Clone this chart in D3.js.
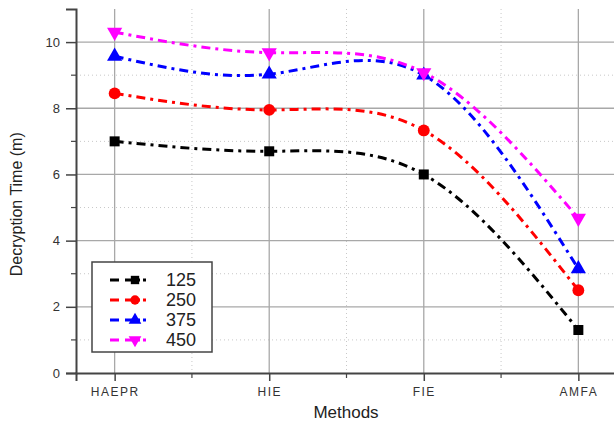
<!DOCTYPE html>
<html>
<head>
<meta charset="utf-8">
<script src="https://cdn.jsdelivr.net/npm/d3@7"></script>
<style>
  body { margin: 0; background: #fff; }
  svg text { font-family: "Liberation Sans", Arial, sans-serif; }
</style>
</head>
<body>
<svg id="chart" width="614" height="430"></svg>
<script>
// categories and series
const methods = ["HAEPR", "HIE", "FIE", "AMFA"];
const seriesNames = ["125", "250", "375", "450"];
const s125 = [7.0, 6.7, 6.0, 1.3];
const s250 = [8.45, 7.95, 7.33, 2.5];
const s375 = [9.57, 9.03, 9.0, 3.15];
const s450 = [10.3, 9.68, 9.08, 4.68];
const yTicks = [0, 2, 4, 6, 8, 10];

const colors = ["#000000", "#ff0000", "#0000ff", "#ff00ff"];
const symbols = [d3.symbolSquare, d3.symbolCircle, d3.symbolTriangle, d3.symbolTriangle];
const allSeries = [s125, s250, s375, s450];

const svg = d3.select("#chart");
const pLeft = 76, pBottom = 373, pTop = 9, pRight = 617;

const x = d3.scaleLinear().domain([-0.25, 3.25]).range([pLeft, pRight]);
const y = d3.scaleLinear().domain([0, 11]).range([pBottom, pTop]);

// grid
const grid = svg.append("g");
grid.selectAll(".hmin").data([1, 3, 5, 7, 9]).enter().append("line")
  .attr("x1", pLeft).attr("x2", 614)
  .attr("y1", d => y(d)).attr("y2", d => y(d))
  .attr("stroke", "#c8c8c8").attr("stroke-width", 1).attr("stroke-dasharray", "1,3");
grid.selectAll(".vmin").data([0.5, 1.5, 2.5]).enter().append("line")
  .attr("x1", d => x(d)).attr("x2", d => x(d))
  .attr("y1", pTop).attr("y2", pBottom)
  .attr("stroke", "#c8c8c8").attr("stroke-width", 1).attr("stroke-dasharray", "1,3");
grid.selectAll(".hmaj").data(yTicks.slice(1)).enter().append("line")
  .attr("x1", pLeft).attr("x2", 614)
  .attr("y1", d => y(d)).attr("y2", d => y(d))
  .attr("stroke", "#a8a8a8").attr("stroke-width", 1.3);
grid.selectAll(".vmaj").data(d3.range(methods.length)).enter().append("line")
  .attr("x1", d => x(d)).attr("x2", d => x(d))
  .attr("y1", pTop).attr("y2", pBottom)
  .attr("stroke", "#a8a8a8").attr("stroke-width", 1.3);

// axes
const yAxis = svg.append("g").attr("transform", `translate(${pLeft},0)`)
  .call(d3.axisLeft(y).tickValues(yTicks).tickSize(10).tickPadding(6));
yAxis.select(".domain").attr("stroke", "#444").attr("stroke-width", 2);
yAxis.selectAll(".tick line").attr("stroke", "#444").attr("stroke-width", 1.5);
yAxis.selectAll("text").style("font-size", "13px").attr("fill", "#333");
svg.append("g").selectAll("line").data([1, 3, 5, 7, 9]).enter().append("line")
  .attr("x1", pLeft - 5).attr("x2", pLeft)
  .attr("y1", d => y(d)).attr("y2", d => y(d))
  .attr("stroke", "#444").attr("stroke-width", 1.2);

const xAxis = svg.append("g").attr("transform", `translate(0,${pBottom})`)
  .call(d3.axisBottom(x).tickValues(d3.range(methods.length))
    .tickFormat(i => methods[i]).tickSize(8).tickPadding(6));
xAxis.select(".domain").attr("stroke", "#444").attr("stroke-width", 2);
xAxis.selectAll(".tick line").attr("stroke", "#444").attr("stroke-width", 1.5);
xAxis.selectAll("text").style("font-size", "12px").style("letter-spacing", "1.5px").attr("fill", "#333");
svg.append("g").selectAll("line").data([0.5, 1.5, 2.5]).enter().append("line")
  .attr("x1", d => x(d)).attr("x2", d => x(d))
  .attr("y1", pBottom).attr("y2", pBottom + 5)
  .attr("stroke", "#444").attr("stroke-width", 1.2);

// axis titles
svg.append("text")
  .attr("transform", `translate(22,${y(5.1)}) rotate(-90)`)
  .attr("text-anchor", "middle")
  .style("font-size", "16px").attr("fill", "#222")
  .text("Decryption Time (m)");
svg.append("text")
  .attr("x", 346).attr("y", 418)
  .attr("text-anchor", "middle")
  .style("font-size", "17px").attr("fill", "#222")
  .text("Methods");

// lines
const line = d3.line()
  .x((d, i) => x(i))
  .y(d => y(d))
  .curve(d3.curveNatural);

allSeries.forEach(function(s, k) {
  svg.append("path")
    .datum(s)
    .attr("d", line)
    .attr("fill", "none")
    .attr("stroke", colors[k])
    .attr("stroke-width", 3)
    .attr("stroke-dasharray", "9,5,3,5");
});

function marker(sel, k, size) {
  sel.attr("d", d3.symbol().type(symbols[k]).size(size))
    .attr("fill", colors[k]);
}

allSeries.forEach(function(s, k) {
  svg.append("g").selectAll("path")
    .data(s)
    .enter()
    .append("path")
      .attr("transform", (d, i) => `translate(${x(i)},${y(d)})` + (k === 3 ? " rotate(180)" : ""))
      .call(marker, k, k === 1 ? 110 : 100);
});

// legend
const legend = svg.append("g").attr("transform", "translate(92,262)");
legend.append("rect")
  .attr("width", 120).attr("height", 90)
  .attr("fill", "#fff").attr("stroke", "#444").attr("stroke-width", 1.5);
seriesNames.forEach(function(name, k) {
  const yy = 18 + k * 20;
  legend.append("line")
    .attr("x1", 18).attr("x2", 54).attr("y1", yy).attr("y2", yy)
    .attr("stroke", colors[k]).attr("stroke-width", 3)
    .attr("stroke-dasharray", "9,6,15,3,3");
  legend.append("path")
    .attr("transform", `translate(43,${yy})` + (k === 3 ? " rotate(180)" : ""))
    .call(marker, k, 70);
  legend.append("text")
    .attr("x", 74).attr("y", yy + 6)
    .style("font-size", "18px").attr("fill", "#222")
    .text(name);
});
</script>
</body>
</html>
